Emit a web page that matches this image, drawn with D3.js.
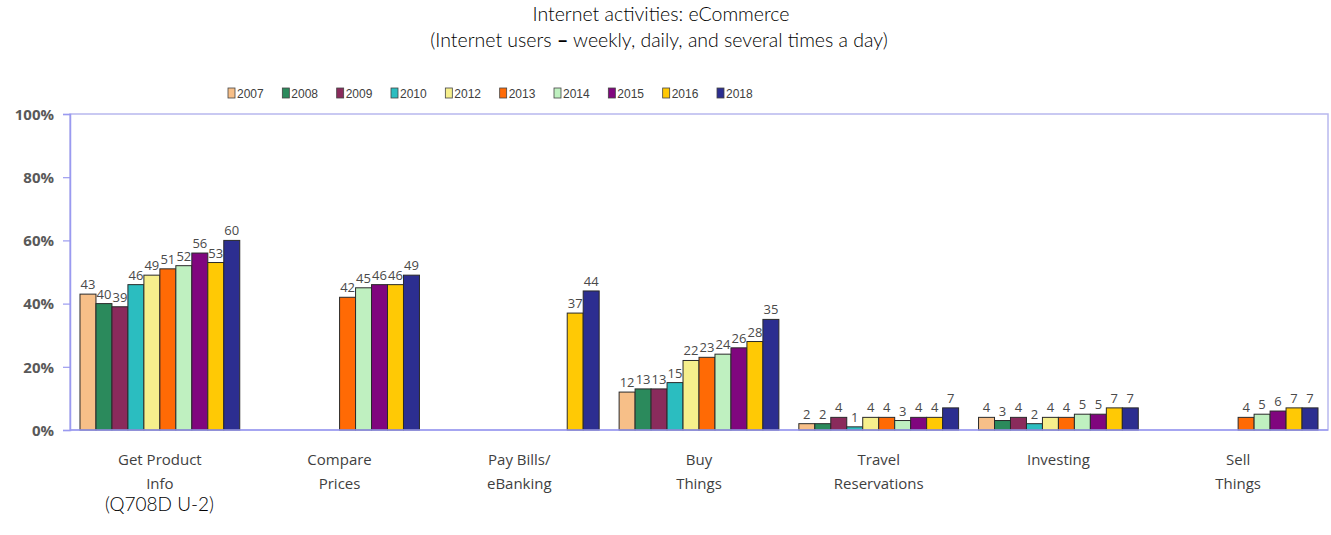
<!DOCTYPE html>
<html>
<head>
<meta charset="utf-8">
<script src="https://cdn.jsdelivr.net/npm/d3@7/dist/d3.min.js"></script>
<style>
  html, body { margin: 0; padding: 0; background: #fff; }
  svg { display: block; }
  .title { font-family: Lato, "Open Sans", sans-serif; font-weight: 300; font-size: 19.5px; fill: #000; }
  .title .dash { font-weight: 700; }
  .ytick text { font-family: "Open Sans", "Liberation Sans", sans-serif; font-weight: 700; font-size: 15px; fill: #595959; }
  .cat { font-family: "Open Sans", "Liberation Sans", sans-serif; font-size: 15px; fill: #3f3f3f; }
  .val { font-family: "Open Sans", "Liberation Sans", sans-serif; font-size: 13px; fill: #4a4a4a; }
  .leg { font-family: "Liberation Sans Narrow", "Liberation Sans", sans-serif; font-size: 12px; fill: #404040; }
  .note { font-family: Lato, "Open Sans", sans-serif; font-weight: 300; font-size: 19px; fill: #000; }
</style>
</head>
<body>
<script>
// Survey years shown in the legend and as bars within each activity group
const years = ["2007", "2008", "2009", "2010", "2012", "2013", "2014", "2015", "2016", "2018"];
const yearColors = ["#f7bf88", "#2b8a5c", "#8a2b5c", "#2bbdc0", "#f6ef8c", "#ff6a05", "#bff0c0", "#80067e", "#ffc905", "#2c2e90"];

// Activity categories (each label split over two lines)
const categories = ["Get Product Info", "Compare Prices", "Pay Bills/ eBanking", "Buy Things", "Travel Reservations", "Investing", "Sell Things"];
const categoryLines = [["Get Product", "Info"], ["Compare", "Prices"], ["Pay Bills/", "eBanking"], ["Buy", "Things"], ["Travel", "Reservations"], ["Investing"], ["Sell", "Things"]];

// Percent of internet users per category, one array per category, ordered like `years` (null = not asked)
const getProductInfo   = [43, 40, 39, 46, 49, 51, 52, 56, 53, 60];
const comparePrices    = [null, null, null, null, null, 42, 45, 46, 46, 49];
const payBills         = [null, null, null, null, null, null, null, null, 37, 44];
const buyThings        = [12, 13, 13, 15, 22, 23, 24, 26, 28, 35];
const travelReserv     = [2, 2, 4, 1, 4, 4, 3, 4, 4, 7];
const investing        = [4, 3, 4, 2, 4, 4, 5, 5, 7, 7];
const sellThings       = [null, null, null, null, null, 4, 5, 6, 7, 7];
const seriesByCategory = [getProductInfo, comparePrices, payBills, buyThings, travelReserv, investing, sellThings];

const yTicks = [0, 20, 40, 60, 80, 100];

const W = 1331, H = 535;
const plot = { left: 70, right: 1328, top: 114, bottom: 430 };

const svg = d3.select("body").append("svg").attr("width", W).attr("height", H);

// Title
const title = svg.append("text").attr("class", "title").attr("text-anchor", "middle");
title.append("tspan").attr("x", 661).attr("y", 21).text("Internet activities: eCommerce");
const sub = title.append("tspan").attr("x", 659).attr("y", 47);
sub.append("tspan").text("(Internet users ");
sub.append("tspan").attr("class", "dash").text("\u2013");
sub.append("tspan").text(" weekly, daily, and several times a day)");

// Scales
const x = d3.scaleBand().domain(categories).range([plot.left, plot.right]).paddingInner(0.111).paddingOuter(0.0556);
const xYear = d3.scaleBand().domain(years).range([0, x.bandwidth()]).padding(0);
const y = d3.scaleLinear().domain([0, 100]).range([plot.bottom, plot.top]);
const color = d3.scaleOrdinal().domain(years).range(yearColors);

// Plot area frame
svg.append("rect")
  .attr("x", plot.left).attr("y", plot.top)
  .attr("width", plot.right - plot.left).attr("height", plot.bottom - plot.top)
  .attr("fill", "none").attr("stroke", "#b8b8ee").attr("stroke-width", 1.5);

// Y axis
const yAxis = svg.append("g").attr("transform", `translate(${plot.left},0)`)
  .call(d3.axisLeft(y).tickValues(yTicks).tickFormat(d => d + "%").tickSize(7).tickPadding(9));
yAxis.select(".domain").attr("stroke", "#9a9af0").attr("stroke-width", 1.5);
yAxis.selectAll(".tick line").attr("stroke", "#9a9af0").attr("stroke-width", 1.2);
yAxis.selectAll(".tick").attr("class", "tick ytick");
yAxis.selectAll(".tick text").attr("dy", "0.35em");
yAxis.attr("font-family", null).attr("font-size", null);

// Bars
const rows = [];
categories.forEach((c, ci) => {
  seriesByCategory[ci].forEach((v, yi) => {
    if (v !== null) rows.push({ cat: c, year: years[yi], value: v });
  });
});

const bars = svg.append("g");
bars.selectAll("rect").data(rows).join("rect")
  .attr("x", d => x(d.cat) + xYear(d.year))
  .attr("y", d => y(d.value))
  .attr("width", xYear.bandwidth())
  .attr("height", d => y(0) - y(d.value))
  .attr("fill", d => color(d.year))
  .attr("stroke", "#2a2a2a").attr("stroke-width", 1);

// Bottom axis line over the bars
svg.append("line")
  .attr("x1", plot.left).attr("x2", plot.right)
  .attr("y1", y(0)).attr("y2", y(0))
  .attr("stroke", "#9a9af0").attr("stroke-width", 1.5);

// Value labels
svg.append("g").selectAll("text").data(rows).join("text")
  .attr("class", "val").attr("text-anchor", "middle")
  .attr("x", d => x(d.cat) + xYear(d.year) + xYear.bandwidth() / 2)
  .attr("y", d => y(d.value) - 5)
  .text(d => d.value);

// Category labels
const catG = svg.append("g");
categories.forEach((c, ci) => {
  const t = catG.append("text").attr("class", "cat").attr("text-anchor", "middle");
  categoryLines[ci].forEach((line, li) => {
    t.append("tspan").attr("x", x(c) + x.bandwidth() / 2).attr("y", 465 + li * 24).text(line);
  });
});

// Legend
const legX = d3.scalePoint().domain(years).range([228, 717]);
const leg = svg.append("g").selectAll("g").data(years).join("g")
  .attr("transform", d => `translate(${legX(d)},88)`);
leg.append("rect").attr("width", 7).attr("height", 10)
  .attr("fill", d => color(d)).attr("stroke", "#444").attr("stroke-width", 0.8);
leg.append("text").attr("class", "leg").attr("x", 9).attr("y", 9.5).text(d => d);

// Source note
svg.append("text").attr("class", "note").attr("x", 105).attr("y", 511).text("(Q708D U-2)");
</script>
</body>
</html>
